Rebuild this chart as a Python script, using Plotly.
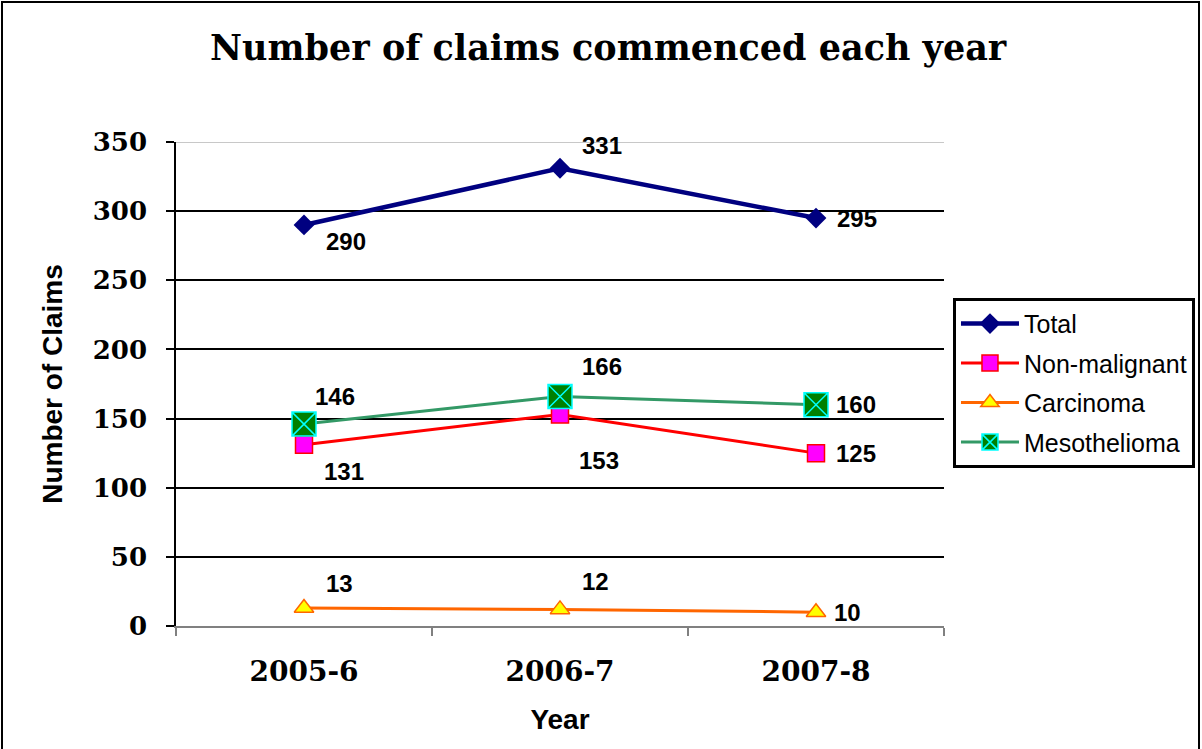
import plotly.graph_objects as go

years = ["2005-6", "2006-7", "2007-8"]
total = [290, 331, 295]
non_malignant = [131, 153, 125]
carcinoma = [13, 12, 10]
mesothelioma = [146, 166, 160]

y_ticks = [0, 50, 100, 150, 200, 250, 300, 350]

# label offsets in pixels (dx, dy up) per series / point
off_total = [(42, -17), (42, 23), (41, 0)]
off_nonmal = [(40, -27), (39, -46), (40, 0)]
off_carc = [(35, 25), (35, 28), (31, 0)]
off_meso = [(31, 28), (42, 30), (40, 0)]

fig = go.Figure()

fig.add_trace(go.Scatter(
    x=years, y=total, name="Total", mode="lines+markers", legendgroup="a",
    line=dict(color="#000080", width=4.5),
    marker=dict(symbol="diamond", size=16, color="#000080"),
))
fig.add_trace(go.Scatter(
    x=years, y=non_malignant, name="Non-malignant", mode="lines+markers", legendgroup="b",
    line=dict(color="#FF0000", width=3),
    marker=dict(symbol="square", size=17, color="#FF00FF", line=dict(color="#FF0000", width=1.5)),
))
fig.add_trace(go.Scatter(
    x=years, y=carcinoma, name="Carcinoma", mode="lines+markers", legendgroup="c",
    line=dict(color="#FF6600", width=3),
    marker=dict(symbol="triangle-up", size=17, color="#FFFF00", line=dict(color="#FF6600", width=1.5)),
))
fig.add_trace(go.Scatter(
    x=years, y=mesothelioma, name="Mesothelioma", mode="lines+markers", legendgroup="d",
    line=dict(color="#339966", width=3),
    marker=dict(symbol="square-x", size=24, color="#008000", line=dict(color="#00FFFF", width=1.5)),
))

label_font = dict(family="Liberation Sans, Arial", size=24, color="black", weight="bold")
for vals, offs in [(total, off_total), (non_malignant, off_nonmal),
                   (carcinoma, off_carc), (mesothelioma, off_meso)]:
    for xv, yv, (dx, dy) in zip(years, vals, offs):
        fig.add_annotation(x=xv, y=yv, text=str(yv), showarrow=False,
                           xshift=dx, yshift=dy, font=label_font)

fig.update_layout(
    width=1202, height=749,
    paper_bgcolor="white", plot_bgcolor="white",
    margin=dict(l=176, r=258, t=142, b=123, autoexpand=False),
    title=dict(text="Number of claims commenced each year",
               x=0.506, xanchor="center", y=1 - 48 / 749, yanchor="middle",
               font=dict(family="DejaVu Serif", size=35, color="black", weight="bold")),
    showlegend=True,
    legend=dict(x=1.0117, y=0.678, xanchor="left", yanchor="top",
                bgcolor="white", bordercolor="black", borderwidth=3,
                font=dict(family="Liberation Sans, Arial", size=25, color="black"),
                tracegroupgap=4, itemwidth=58),
    xaxis=dict(
        type="category", range=[-0.5, 2.5],
        showline=True, linecolor="#808080", linewidth=2,
        ticks="outside", ticklen=8, tickcolor="#808080", tickwidth=1.5,
        tickson="boundaries", showgrid=False,
        tickfont=dict(family="DejaVu Serif", size=28, color="black", weight="bold"),
        ticklabelstandoff=19,
        title=dict(text="Year", standoff=23,
                   font=dict(family="Liberation Sans, Arial", size=28, color="black", weight="bold")),
    ),
    yaxis=dict(
        range=[0, 350], tickvals=y_ticks,
        showline=True, linecolor="black", linewidth=1.5,
        ticks="outside", ticklen=8, tickcolor="black", tickwidth=1.5,
        showgrid=True, gridcolor="black", gridwidth=1.5, zeroline=False,
        tickfont=dict(family="DejaVu Serif", size=26, color="black", weight="bold"),
        ticklabelstandoff=14,
        title=dict(text="Number of Claims", standoff=22,
                   font=dict(family="Liberation Sans, Arial", size=28, color="black", weight="bold")),
    ),
)

# light top border of plot area
fig.add_shape(type="line", xref="paper", yref="y", x0=0, x1=1, y0=350, y1=350,
              line=dict(color="#C8C8C8", width=2), layer="above")
# outer chart frame
fig.add_shape(type="rect", xref="paper", yref="paper",
              x0=-174 / 768, x1=1023 / 768, y0=-200 / 484, y1=624 / 484,
              line=dict(color="black", width=2), layer="above")

fig.write_html("out.html", config={"displayModeBar": False},
               post_script="document.body.style.margin='0';")
